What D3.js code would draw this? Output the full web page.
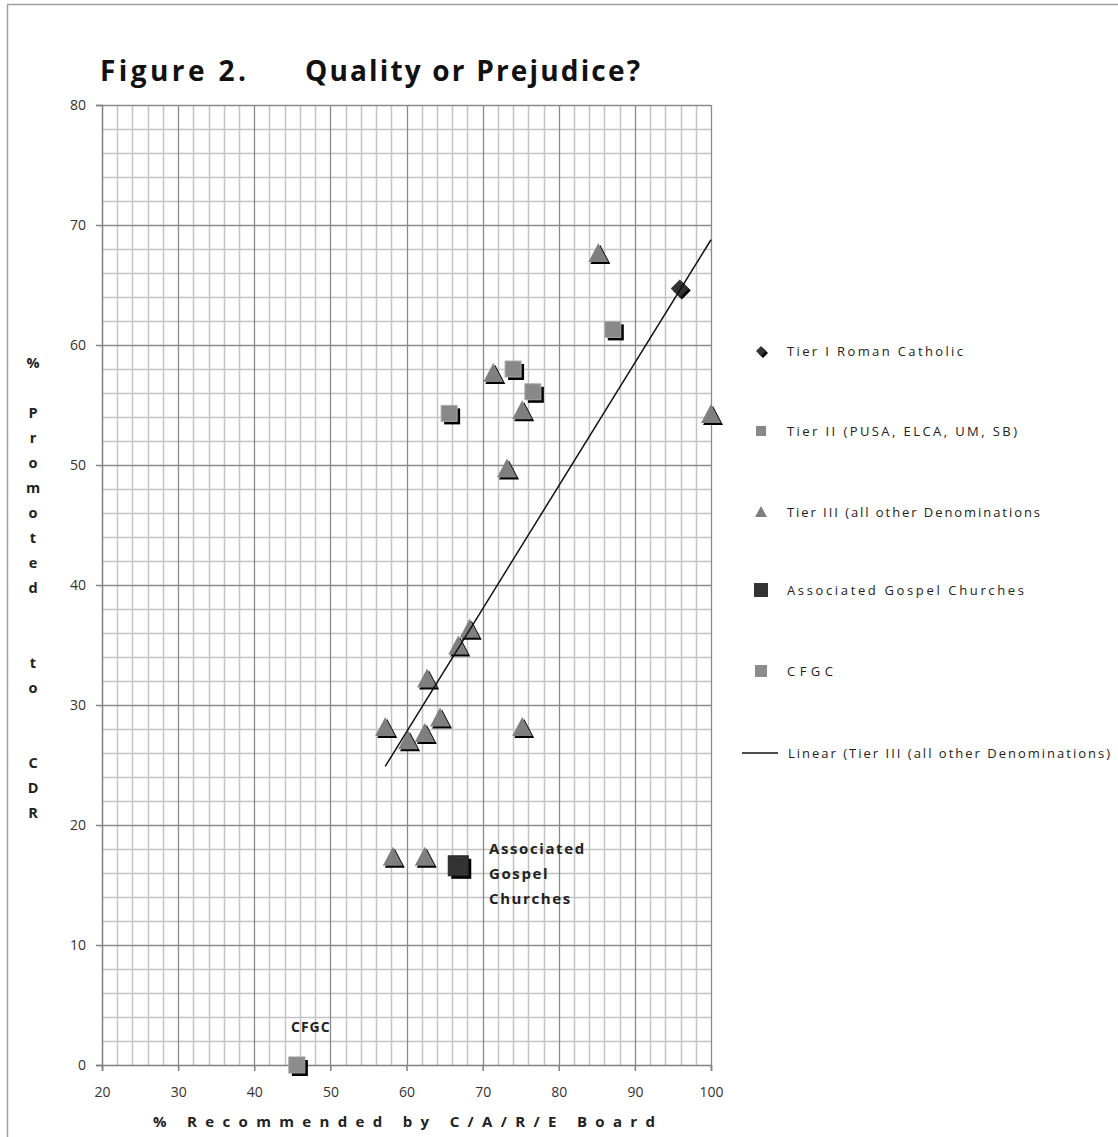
<!DOCTYPE html>
<html>
<head>
<meta charset="utf-8">
<script src="https://cdn.jsdelivr.net/npm/d3@7"></script>
<style>
  body { margin: 0; background: #fff; }
  svg { display: block; }
</style>
</head>
<body>
<svg id="chart" width="1118" height="1137"></svg>
<script>
// ---- data ----
const titleLeft = "Figure 2.";
const titleRight = "Quality or Prejudice?";
const xTitle = "% Recommended by C/A/R/E Board";
const yTitle = "% Promoted  to  CDR";
const xTicks = [20, 30, 40, 50, 60, 70, 80, 90, 100];
const yTicks = [0, 10, 20, 30, 40, 50, 60, 70, 80];

const tier1X = [95.9];
const tier1Y = [64.7];
const tier2X = [87.1, 74.0, 76.6, 65.6];
const tier2Y = [61.3, 58.0, 56.1, 54.3];
const tier3X = [85.2, 100, 71.4, 75.2, 73.2, 68.3, 66.8, 62.7, 64.4, 57.2, 62.4, 60.2, 75.2, 58.2, 62.4];
const tier3Y = [67.7, 54.3, 57.7, 54.6, 49.75, 36.4, 35.0, 32.25, 29.0, 28.2, 27.7, 27.1, 28.2, 17.4, 17.4];
const agcX = [66.8];
const agcY = [16.6];
const cfgcX = [45.6];
const cfgcY = [0];

const legendLabels = [
  "Tier I Roman Catholic",
  "Tier II (PUSA, ELCA, UM, SB)",
  "Tier III (all other Denominations",
  "Associated Gospel Churches",
  "CFGC",
  "Linear (Tier III (all other Denominations)"
];
const agcLabel = ["Associated", "Gospel", "Churches"];
const cfgcLabel = "CFGC";

// ---- drawing ----
const svg = d3.select("#chart");
const x = d3.scaleLinear().domain([20, 100]).range([102, 711]);
const y = d3.scaleLinear().domain([0, 80]).range([1065, 105]);

// outer frame
svg.append("rect").attr("x", 7.5).attr("y", 4.5).attr("width", 1120).attr("height", 1140)
  .attr("fill", "none").attr("stroke", "#a0a0a0").attr("stroke-width", 1.5);

// title
svg.append("text").attr("x", 100).attr("y", 81).text(titleLeft)
  .attr("font-family", "Open Sans, sans-serif").attr("font-weight", "bold")
  .attr("font-size", 28).attr("fill", "#111")
  .attr("textLength", 146).attr("lengthAdjust", "spacing");
svg.append("text").attr("x", 305).attr("y", 81).text(titleRight)
  .attr("font-family", "Open Sans, sans-serif").attr("font-weight", "bold")
  .attr("font-size", 28).attr("fill", "#111")
  .attr("textLength", 335).attr("lengthAdjust", "spacing");

// grid
const g = svg.append("g");
const minorX = d3.range(22, 100, 2).filter(v => v % 10 !== 0);
const minorY = d3.range(2, 80, 2).filter(v => v % 10 !== 0);
g.selectAll(".mx").data(minorX).join("line")
  .attr("x1", d => Math.round(x(d)) + 0.5).attr("x2", d => Math.round(x(d)) + 0.5)
  .attr("y1", y(80)).attr("y2", y(0)).attr("stroke", "#c4c4c4").attr("stroke-width", 1.5);
g.selectAll(".my").data(minorY).join("line")
  .attr("y1", d => Math.round(y(d)) + 0.5).attr("y2", d => Math.round(y(d)) + 0.5)
  .attr("x1", x(20)).attr("x2", x(100)).attr("stroke", "#c4c4c4").attr("stroke-width", 1.5);
g.selectAll(".Mx").data(xTicks.slice(1)).join("line")
  .attr("x1", d => Math.round(x(d)) + 0.5).attr("x2", d => Math.round(x(d)) + 0.5)
  .attr("y1", y(80)).attr("y2", y(0)).attr("stroke", "#8a8a8a").attr("stroke-width", 1.3);
g.selectAll(".My").data(yTicks.slice(1)).join("line")
  .attr("y1", d => Math.round(y(d)) + 0.5).attr("y2", d => Math.round(y(d)) + 0.5)
  .attr("x1", x(20)).attr("x2", x(100)).attr("stroke", "#8a8a8a").attr("stroke-width", 1.3);

// axes
const axFont = (sel) => sel.selectAll("text")
  .attr("font-family", "Open Sans, sans-serif").attr("font-size", 14).attr("fill", "#333");
const xAxis = svg.append("g").attr("transform", `translate(0,${y(0)})`)
  .call(d3.axisBottom(x).tickValues(xTicks).tickSize(6).tickPadding(16).tickFormat(d3.format("d")));
const yAxis = svg.append("g").attr("transform", `translate(${x(20)},0)`)
  .call(d3.axisLeft(y).tickValues(yTicks).tickSize(6).tickPadding(10).tickFormat(d3.format("d")));
[xAxis, yAxis].forEach(a => {
  a.select(".domain").attr("stroke", "#808080").attr("stroke-width", 1.5);
  a.selectAll(".tick line").attr("stroke", "#808080").attr("stroke-width", 1.5);
  axFont(a);
});

// axis titles
svg.append("text").attr("x", 153).attr("y", 1127).text(xTitle)
  .attr("font-family", "Open Sans, sans-serif").attr("font-weight", "bold")
  .attr("font-size", 15).attr("fill", "#222")
  .attr("textLength", 502).attr("lengthAdjust", "spacing");
const yt = svg.append("text").attr("font-family", "Open Sans, sans-serif")
  .attr("font-weight", "bold").attr("font-size", 14.5).attr("fill", "#222")
  .attr("text-anchor", "middle");
yTitle.split("").forEach((ch, i) => {
  yt.append("tspan").attr("x", 33).attr("y", 368 + i * 25).text(ch === " " ? "\u00a0" : ch);
});

// markers
const plot = svg.append("g");
function triangle(sel, cx, cy, s) {
  const h = s * 0.95;
  const p = `M${cx},${cy - h / 2}L${cx + s / 2},${cy + h / 2}L${cx - s / 2},${cy + h / 2}Z`;
  sel.append("path").attr("d", p).attr("transform", "translate(2,2)").attr("fill", "#000");
  sel.append("path").attr("d", p).attr("fill", "#7f7f7f");
}
function square(sel, cx, cy, s, fill, stroke) {
  sel.append("rect").attr("x", cx - s / 2 + 3).attr("y", cy - s / 2 + 3).attr("width", s).attr("height", s).attr("fill", "#000");
  sel.append("rect").attr("x", cx - s / 2).attr("y", cy - s / 2).attr("width", s).attr("height", s)
    .attr("fill", fill).attr("stroke", stroke).attr("stroke-width", 1);
}
function diamond(sel, cx, cy, s) {
  const p = `M${cx},${cy - s / 2}L${cx + s / 2},${cy}L${cx},${cy + s / 2}L${cx - s / 2},${cy}Z`;
  sel.append("path").attr("d", p).attr("transform", "translate(2,2)").attr("fill", "#000");
  sel.append("path").attr("d", p).attr("fill", "#333");
}

// trendline (least squares of Tier III)
const mx = d3.mean(tier3X), my = d3.mean(tier3Y);
const slope = d3.sum(tier3X, (v, i) => (v - mx) * (tier3Y[i] - my)) / d3.sum(tier3X, v => (v - mx) ** 2);
const icpt = my - slope * mx;
const tx0 = d3.min(tier3X), tx1 = d3.max(tier3X);

tier3X.forEach((v, i) => triangle(plot, x(v), y(tier3Y[i]), 20));
tier2X.forEach((v, i) => square(plot, x(v), y(tier2Y[i]), 16, "#888", "#aaa"));
agcX.forEach((v, i) => square(plot, x(v), y(agcY[i]), 20, "#333", "#222"));
cfgcX.forEach((v, i) => square(plot, x(v), y(cfgcY[i]), 16, "#8c8c8c", "#9a9a9a"));
tier1X.forEach((v, i) => diamond(plot, x(v), y(tier1Y[i]), 18));

plot.append("line")
  .attr("x1", x(tx0)).attr("y1", y(icpt + slope * tx0))
  .attr("x2", x(tx1)).attr("y2", y(icpt + slope * tx1))
  .attr("stroke", "#111").attr("stroke-width", 1.5);

// data labels
const lab = svg.append("g").attr("font-family", "Open Sans, sans-serif")
  .attr("font-weight", "bold").attr("font-size", 15).attr("fill", "#222").attr("letter-spacing", 1.6);
agcLabel.forEach((t, i) => lab.append("text").attr("x", 489).attr("y", 854 + i * 25).text(t));
lab.append("text").attr("x", 291).attr("y", 1032).text(cfgcLabel).attr("font-size", 14).attr("letter-spacing", 1);

// legend
const leg = svg.append("g");
const legY = [351, 431, 512, 590, 671, 753];
const legW = [176, 230, 253, 237, 46, 322];
diamond(leg, 761, legY[0], 10);
leg.append("rect").attr("x", 756).attr("y", legY[1] - 5).attr("width", 10).attr("height", 10).attr("fill", "#888");
leg.append("path").attr("d", `M761,${legY[2] - 6}L767,${legY[2] + 5}L755,${legY[2] + 5}Z`).attr("fill", "#7f7f7f");
leg.append("rect").attr("x", 754).attr("y", legY[3] - 7).attr("width", 14).attr("height", 14).attr("fill", "#333");
leg.append("rect").attr("x", 755).attr("y", legY[4] - 6).attr("width", 12).attr("height", 12).attr("fill", "#8c8c8c");
leg.append("line").attr("x1", 742).attr("x2", 778).attr("y1", legY[5]).attr("y2", legY[5])
  .attr("stroke", "#111").attr("stroke-width", 1.5);
legendLabels.forEach((t, i) => {
  leg.append("text").attr("x", i === 5 ? 788 : 787).attr("y", legY[i] + 5).text(t)
    .attr("font-family", "Open Sans, sans-serif").attr("font-size", 13).attr("fill", "#222")
    .attr("textLength", legW[i]).attr("lengthAdjust", "spacing");
});
</script>
</body>
</html>
